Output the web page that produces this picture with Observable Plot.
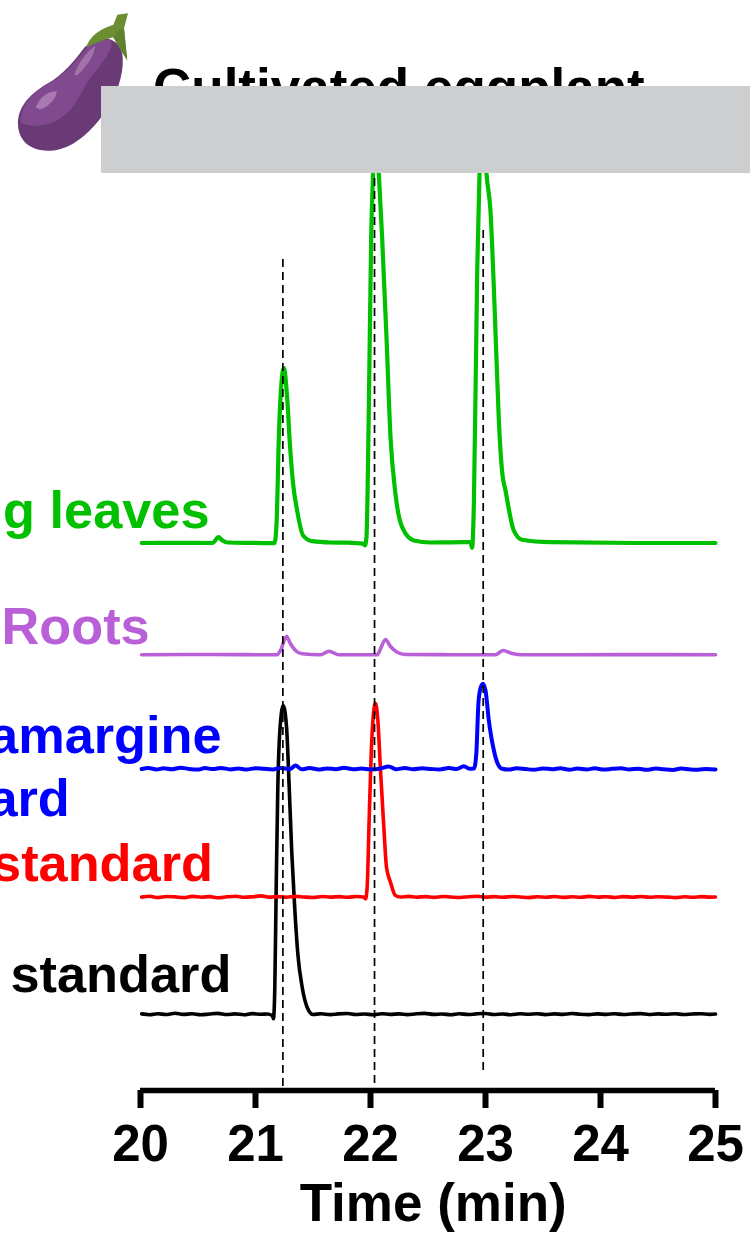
<!DOCTYPE html>
<html>
<head>
<meta charset="utf-8">
<script src="https://cdn.jsdelivr.net/npm/d3@7"></script>
<script src="https://cdn.jsdelivr.net/npm/@observablehq/plot@0.6"></script>
<style>
html,body{margin:0;padding:0;background:#fff;width:750px;height:1233px;overflow:hidden}
#stage{position:relative;width:750px;height:1233px;overflow:hidden}
#stage svg.plot{position:absolute;left:0;top:0}
#fruit{position:absolute;left:0;top:0}
#title{position:absolute;left:153px;top:57px;font:bold 53px "Liberation Sans",Arial,sans-serif;white-space:nowrap;color:#000}
#cover{position:absolute;left:101px;top:86px;width:649px;height:87px;background:#cdced0}
</style>
</head>
<body>
<div id="stage">
<svg id="fruit" width="400" height="200" viewBox="0 0 1200 600">
  <path d="M255 140C225 180 190 225 140 252C85 285 52 325 54 375C56 425 95 454 150 452C215 450 275 395 315 335C350 285 372 225 368 170C365 130 330 105 290 120Z" fill="#693a76"/>
  <path d="M262 140C230 185 190 228 140 254C90 282 60 325 62 368C100 385 160 380 205 335C240 300 250 255 285 215C315 180 335 150 335 122C310 115 280 122 262 140Z" fill="#824a8e"/>
  <path d="M222 225C235 190 260 155 285 138C285 165 255 205 232 226Z" fill="#a272ab"/>
  <path d="M108 322C115 295 145 272 170 275C170 295 140 325 118 328Z" fill="#a97ab2"/>
  <path d="M352 44L384 40L372 85L382 182L362 150L340 112C315 118 285 130 258 142C270 110 295 88 340 74Z" fill="#6b8e30"/>
  <path d="M340 112L360 88L372 85L381 178L362 150Z" fill="#5f8230"/>
</svg>
<div id="title">Cultivated eggplant</div>
<div id="cover"></div>
</div>
<script>
const seriesColors = {standard1:"#000000", standard2:"#ff0000", standard3:"#0000ff", roots:"#b95fd8", leaves:"#00c000"};

const leavesTime = [20.01,20.3,20.626,20.678,20.713,20.757,21.0,21.165,21.183,21.203,21.223,21.246,21.275,21.299,21.327,21.362,21.414,21.493,21.652,21.8,21.942,21.951,21.965,21.986,22.006,22.023,22.043,22.072,22.101,22.139,22.174,22.217,22.275,22.377,22.522,22.7,22.87,22.884,22.899,22.928,22.948,22.98,23.009,23.043,23.078,23.116,23.145,23.174,23.246,23.319,23.565,24.3,25];
const leavesSignal = [470.5,470.6,470.5,476.3,473,471,470.6,470.3,489.7,576.3,626.3,645.3,616.3,569.7,529.7,503,478,472.3,471,470.8,469.7,468,476.3,609.7,776.3,843,900,839.7,776.3,676.3,576.3,519.7,486.3,473,471,471.2,471.3,465.7,509.7,743,839.7,900,839.7,803,709.7,593,541.3,523,483,473.7,471.3,470.5,470.5];

const rootsTime = [20.01,20.6,21.188,21.217,21.27,21.304,21.348,21.406,21.565,21.638,21.725,22.058,22.087,22.13,22.174,22.232,22.304,22.7,23.087,23.151,23.232,23.319,24.2,25];
const rootsSignal = [358.7,359,358.7,363,377,369.7,363,359.7,358.7,362.3,358.7,358.7,364.7,374,367,361.3,359,358.8,358.7,363,360,358.7,358.9,358.7];

const blueTime = [20.01,20.07,20.14,20.2,20.27,20.35,20.42,20.5,20.56,20.63,20.7,20.78,20.85,20.92,21,21.07,21.15,21.22,21.3,21.348,21.4,21.47,21.55,21.62,21.7,21.77,21.85,21.92,22,22.08,22.159,22.22,22.3,22.37,22.45,22.52,22.6,22.68,22.75,22.812,22.86,22.9,22.92,22.938,22.955,22.977,23.0,23.029,23.073,23.101,23.145,23.2,23.27,23.35,23.42,23.5,23.58,23.65,23.73,23.8,23.88,23.95,24.03,24.1,24.18,24.25,24.33,24.4,24.48,24.55,24.63,24.7,24.78,24.85,24.92,25];
const blueSignal = [244.5,245.5,244,245.2,244.2,245.8,244.6,243.9,245.4,244.4,245.6,244.1,245,243.9,245.3,244.7,244,245.6,244.4,248,244.2,245.4,244,245.1,244.3,245.7,244.2,245,244.1,244.8,247,244.3,245.5,244.2,245.2,244.6,244,245.5,244.4,247.3,244.8,245,259.7,309.7,324.7,329.7,323,293,263,251.3,244.7,243.9,245.2,244.4,243.7,245.1,244.2,245.3,243.8,244.9,244.1,245.2,243.9,244.7,245.3,244,244.8,243.7,244.9,244.2,243.6,245,244.1,243.8,244.6,244];

const redTime = [20.01,20.08,20.15,20.23,20.3,20.38,20.45,20.53,20.6,20.68,20.75,20.83,20.9,20.98,21.05,21.12,21.2,21.27,21.35,21.42,21.5,21.58,21.65,21.73,21.8,21.88,21.94,21.957,21.971,21.988,22.006,22.023,22.043,22.064,22.087,22.116,22.139,22.174,22.217,22.261,22.33,22.4,22.48,22.55,22.63,22.7,22.78,22.85,22.93,23,23.08,23.15,23.23,23.3,23.38,23.45,23.53,23.6,23.68,23.75,23.83,23.9,23.98,24.05,24.13,24.2,24.28,24.35,24.43,24.5,24.58,24.65,24.73,24.8,24.88,24.95,25];
const redSignal = [116.4,117.2,116,117,116.6,115.9,117.1,116.3,116.9,115.8,116.7,117.3,116.2,116.8,117.6,116.4,116.9,116.3,117.1,116.5,116,117,116.4,116.9,116.2,117,116.4,114.7,126.3,193,259.7,296,310.3,293,243,186,146.3,131.3,118,116.5,117.1,116.3,116.9,116.1,117,116.5,116,116.8,117.2,116.4,116.9,116.2,117,116.5,115.9,116.8,116.3,117,116.1,116.7,116.2,117.1,116.4,116.8,116,116.9,116.3,117,116.2,116.8,116.4,115.9,116.7,116.2,116.9,116.4,116.5];

const blackTime = [20.01,20.08,20.15,20.22,20.3,20.37,20.45,20.52,20.6,20.67,20.75,20.82,20.9,20.97,21.05,21.1,21.145,21.156,21.168,21.18,21.194,21.212,21.241,21.27,21.293,21.316,21.339,21.368,21.406,21.449,21.501,21.57,21.65,21.72,21.8,21.87,21.95,22.02,22.1,22.17,22.25,22.32,22.4,22.47,22.55,22.62,22.7,22.77,22.85,22.92,23,23.07,23.15,23.22,23.3,23.37,23.45,23.52,23.6,23.67,23.75,23.82,23.9,23.97,24.05,24.12,24.2,24.27,24.35,24.42,24.5,24.57,24.65,24.72,24.8,24.87,24.95,25];
const blackSignal = [-0.4,-1.2,-0.2,-1,0.2,-0.9,-0.3,-1.3,-0.5,0.1,-1,-0.4,-1.2,-0.1,-0.8,-0.5,-2,-5.3,26.3,126.3,226.3,283,308,286.3,226.3,159.7,109.7,59.7,26.3,6.3,-1,-0.3,-1.1,-0.4,0,-1,-0.5,-1.2,-0.2,-0.9,-0.4,-1.1,-0.3,0.1,-0.9,-0.5,-1.2,-0.2,-1,-0.4,0,-1,-0.5,-1.2,-0.3,-0.8,-0.2,-1.1,-0.4,-0.9,0,-0.7,-1.1,-0.4,-0.9,-0.2,-1,-0.5,-0.1,-1,-0.4,-0.8,-0.3,-1,-0.5,-0.2,-0.9,-0.5];

const guideTime = [21.238, 22.035, 22.98];
const guideTop = [754, 880, 784];
const guideBottom = [-73, -70, -57];

const labelText = ["Young leaves","Roots","Solamargine","standard","Solasonine standard","Solasodine standard"];
const labelEnd = [20.6, 20.08, 20.705, 19.385, 20.63, 20.79];
const labelSignal = [486, 370, 261, 198, 133, 22];
const labelColor = [seriesColors.leaves, seriesColors.roots, seriesColors.standard3, seriesColors.standard3, seriesColors.standard2, seriesColors.standard1];

const timeTicks = [20,21,22,23,24,25];
const axisLevel = -77;
const axisTitle = ["Time (min)"];

const rows = (t, v) => t.map((d, i) => ({t: d, v: v[i]}));
const trace = (t, v, color, w) => Plot.line(rows(t, v), {x:"t", y:"v", stroke:color, strokeWidth:w, curve:"monotone-x", strokeLinejoin:"round"});
const guides = guideTime.map((t, i) => ({t, top: guideTop[i], bottom: guideBottom[i]}));
const labels = labelText.map((text, i) => ({text, x: labelEnd[i], y: labelSignal[i], color: labelColor[i]}));

const chart = Plot.plot({
  width: 750,
  height: 1233,
  marginLeft: 140,
  marginRight: 35,
  marginTop: 0,
  marginBottom: 143,
  x: {domain: [20, 25], axis: null},
  y: {domain: [axisLevel, 1013], axis: null},
  style: {fontFamily: '"Liberation Sans", Arial, sans-serif', fontWeight: "bold", background: "transparent", overflow: "hidden"},
  marks: [
    trace(blackTime, blackSignal, seriesColors.standard1, 3.6),
    trace(redTime, redSignal, seriesColors.standard2, 3.6),
    trace(blueTime, blueSignal, seriesColors.standard3, 4),
    trace(rootsTime, rootsSignal, seriesColors.roots, 3.6),
    trace(leavesTime, leavesSignal, seriesColors.leaves, 4.2),
    Plot.ruleX(guides, {x:"t", y1:"bottom", y2:"top", stroke:"#000", strokeWidth:1.7, strokeDasharray:"8 5"}),
    Plot.text(labels, {x:"x", y:"y", text:"text", fill:"color", textAnchor:"end", lineAnchor:"bottom", fontSize:52.3, fontWeight:"bold"}),
    Plot.ruleY([axisLevel], {x1:20, x2:25, stroke:"#000", strokeWidth:5.5}),
    Plot.axisX({
      ticks: timeTicks,
      tickFormat: "d",
      tickSize: 18,
      tickPadding: 16,
      strokeWidth: 6,
      fontSize: 51,
      fontWeight: "bold",
      label: null
    }),
    Plot.text(axisTitle, {x: () => 22.545, y: () => -207, text: d => d, fill:"#000", lineAnchor:"bottom", fontSize:53, fontWeight:"bold"})
  ]
});
chart.classList.add("plot");
const stage = document.getElementById("stage");
stage.insertBefore(chart, document.getElementById("cover"));
</script>
</body>
</html>
